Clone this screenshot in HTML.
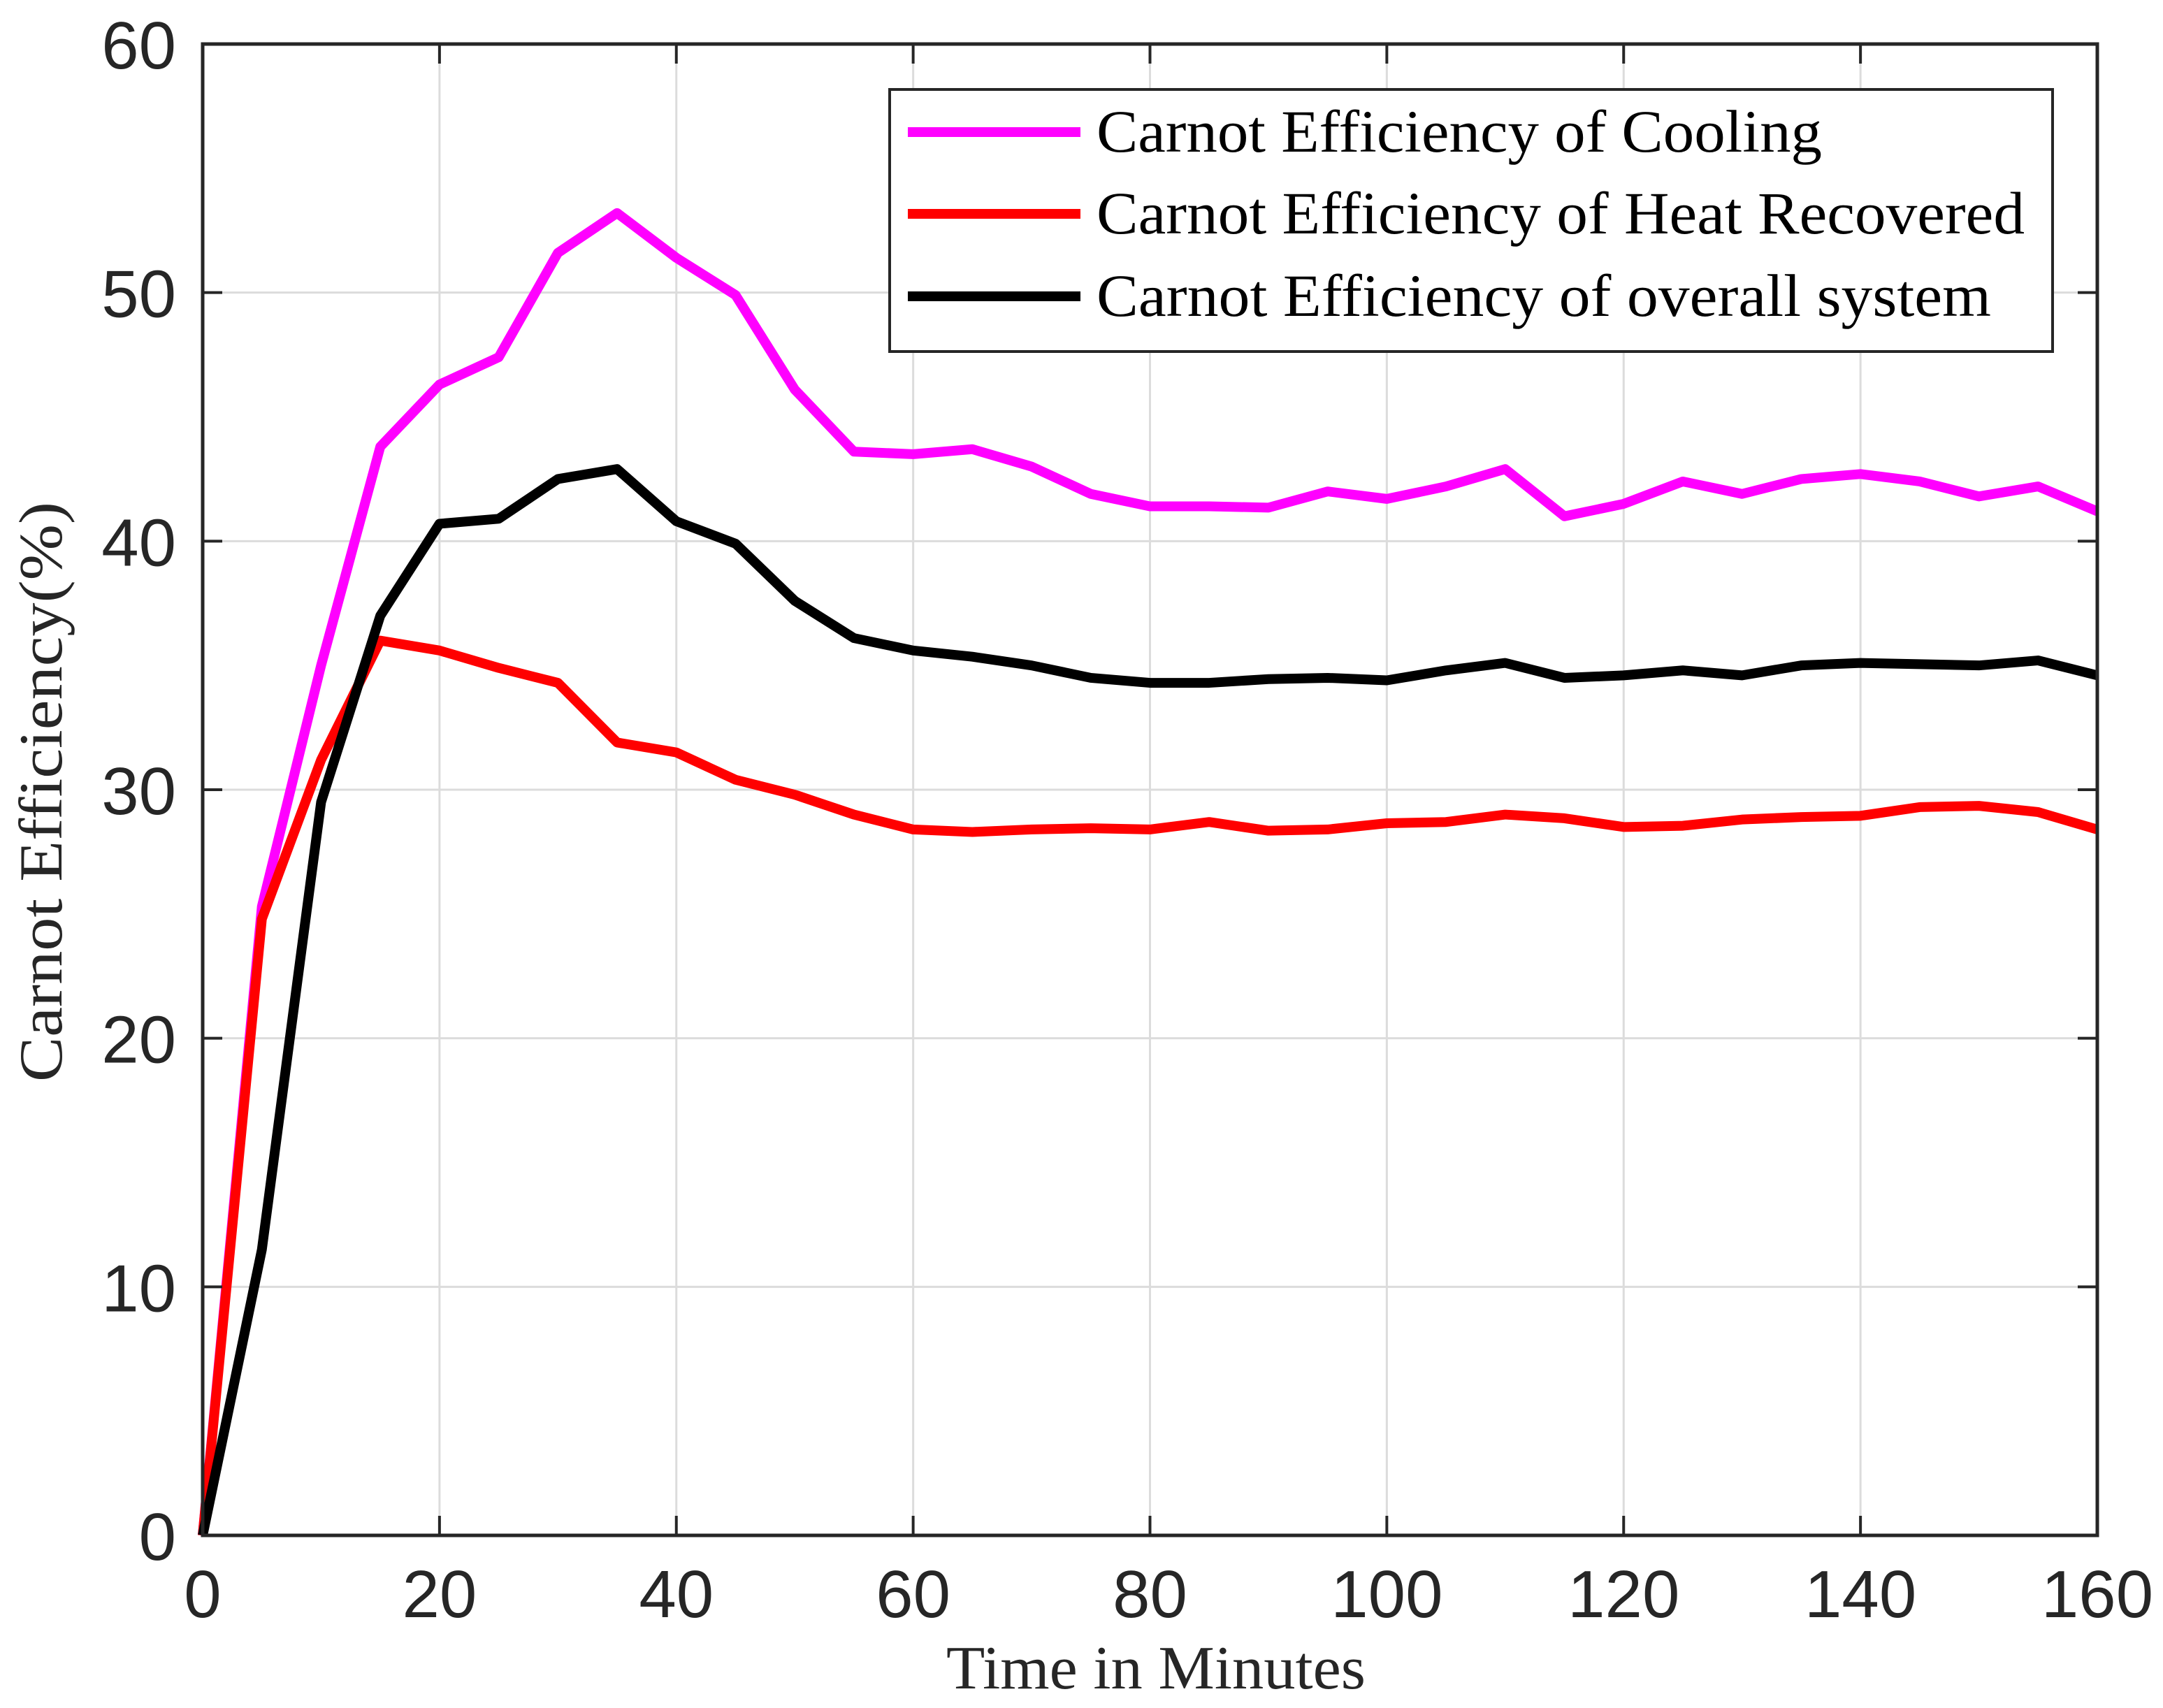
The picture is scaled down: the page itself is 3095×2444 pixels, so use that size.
<!DOCTYPE html>
<html><head><meta charset="utf-8"><style>html,body{margin:0;padding:0;background:#fff}svg{display:block}</style></head>
<body>
<svg id="chart" width="3095" height="2444" viewBox="0 0 3095 2444" xmlns="http://www.w3.org/2000/svg">
<rect width="3095" height="2444" fill="#fff"/>
<g id="grid"></g>
<g id="series"></g>
<g id="axes"></g>
<text x="1654" y="2416" text-anchor="middle" font-family="Liberation Serif, serif" font-size="88" textLength="600" lengthAdjust="spacingAndGlyphs" fill="#262626">Time in Minutes</text>
<text transform="translate(88,1133) rotate(-90)" text-anchor="middle" font-family="Liberation Serif, serif" font-size="88" textLength="830" lengthAdjust="spacingAndGlyphs" fill="#262626">Carnot Efficiency(%)</text>
<g id="legend"></g>
</svg>
<script>
const times = [0,5,10,15,20,25,30,35,40,45,50,55,60,65,70,75,80,85,90,95,100,105,110,115,120,125,130,135,140,145,150,155,160];
const cooling = [0,25.3,35,43.8,46.3,47.4,51.6,53.2,51.4,49.9,46.1,43.6,43.5,43.7,43.0,41.9,41.4,41.4,41.35,42.0,41.7,42.2,42.9,41.0,41.5,42.4,41.9,42.5,42.7,42.4,41.8,42.2,41.2];
const heatRecovered = [0,24.8,31.2,36.0,35.6,34.9,34.3,31.9,31.5,30.4,29.8,29.0,28.4,28.3,28.4,28.45,28.4,28.7,28.35,28.4,28.65,28.7,29.0,28.85,28.5,28.55,28.8,28.9,28.95,29.3,29.35,29.1,28.4];
const overall = [0,11.5,29.5,37.0,40.7,40.9,42.5,42.9,40.8,39.9,37.6,36.1,35.6,35.35,35.0,34.5,34.3,34.3,34.45,34.5,34.4,34.8,35.1,34.5,34.6,34.8,34.6,35.0,35.1,35.05,35.0,35.2,34.6];
const xTicks = [0,20,40,60,80,100,120,140,160];
const yTicks = [0,10,20,30,40,50,60];
const seriesNames = ["Carnot Efficiency of Cooling","Carnot Efficiency of Heat Recovered","Carnot Efficiency of overall system"];

const NS="http://www.w3.org/2000/svg";
const L=290,R=3001,T=63,B=2197;
const xs=v=>L+(v-0)/(160-0)*(R-L);
const ys=v=>B-(v-0)/(60-0)*(B-T);
function mk(tag,attrs,parent){const e=document.createElementNS(NS,tag);for(const k in attrs)e.setAttribute(k,attrs[k]);parent.appendChild(e);return e;}
const grid=document.getElementById('grid'),axes=document.getElementById('axes'),ser=document.getElementById('series'),leg=document.getElementById('legend');
xTicks.forEach(t=>{
  const g=mk('line',{x1:xs(t),x2:xs(t),y1:T,y2:B,stroke:'#dcdcdc','stroke-width':3},grid);
  
  
  mk('line',{x1:xs(t),x2:xs(t),y1:B,y2:B-28,stroke:'#262626','stroke-width':4},axes);
  mk('line',{x1:xs(t),x2:xs(t),y1:T,y2:T+28,stroke:'#262626','stroke-width':4},axes);
  const tx=mk('text',{x:xs(t),y:2314,'text-anchor':'middle','font-family':'Liberation Sans, sans-serif','font-size':96,fill:'#262626'},axes);
  tx.textContent=t;
  
  
});
yTicks.forEach(t=>{
  const g=mk('line',{x1:L,x2:R,y1:ys(t),y2:ys(t),stroke:'#dcdcdc','stroke-width':3},grid);
  
  
  mk('line',{x1:L,x2:L+28,y1:ys(t),y2:ys(t),stroke:'#262626','stroke-width':4},axes);
  mk('line',{x1:R,x2:R-28,y1:ys(t),y2:ys(t),stroke:'#262626','stroke-width':4},axes);
  const tx=mk('text',{x:252,y:ys(t)+35,'text-anchor':'end','font-family':'Liberation Sans, sans-serif','font-size':96,fill:'#262626'},axes);
  tx.textContent=t;
  
  
});
const frame=mk('rect',{x:L,y:T,width:R-L,height:B-T,fill:'none',stroke:'#262626','stroke-width':5},axes);


const colors=['#ff00ff','#ff0000','#000000'];
const names=['cooling-line','heat-recovered-line','overall-system-line'];
[cooling,heatRecovered,overall].forEach((arr,i)=>{
  const p=mk('polyline',{points:arr.map((v,j)=>xs(times[j])+','+ys(v)).join(' '),fill:'none',stroke:colors[i],'stroke-width':14,'stroke-linejoin':'round'},ser);
  
  
});
const box=mk('rect',{x:1273,y:128,width:1664,height:375,fill:'#fff',stroke:'#262626','stroke-width':4},leg);


const ly=[189,306,424];
const lens=[1038,1328,1280];
seriesNames.forEach((n,i)=>{
  const l=mk('line',{x1:1299,x2:1546,y1:ly[i],y2:ly[i],stroke:colors[i],'stroke-width':14},leg);
  
  
  const t=mk('text',{x:1569,y:ly[i]+28,'font-family':'Liberation Serif, serif','font-size':86,textLength:lens[i],lengthAdjust:'spacingAndGlyphs',fill:'#000'},leg);
  t.textContent=n;
  
  
});
</script>
</body></html>
